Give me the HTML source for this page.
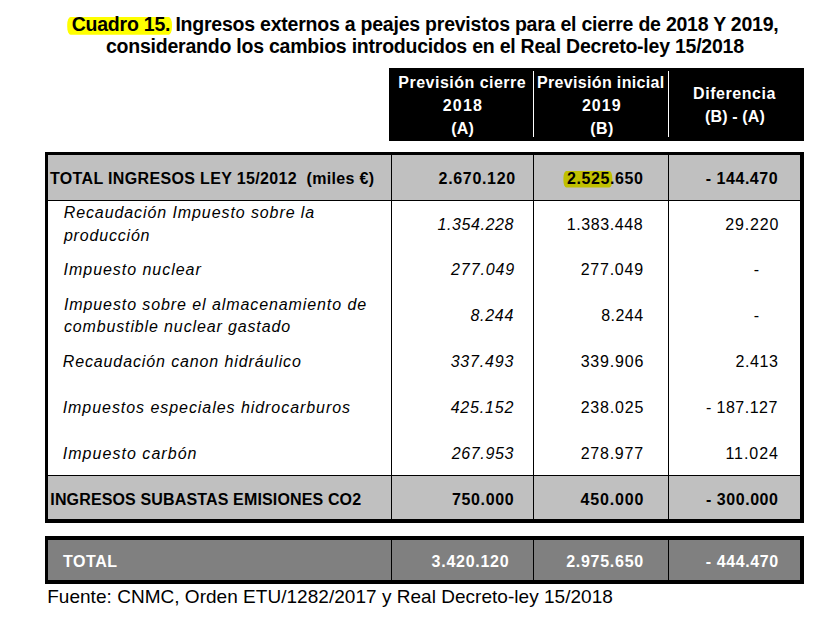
<!DOCTYPE html>
<html><head><meta charset="utf-8"><style>
html,body{margin:0;padding:0;background:#fff;}
body{width:834px;height:620px;overflow:hidden;}
svg{display:block;white-space:pre;font-family:"Liberation Sans",sans-serif;}
</style></head><body>
<svg width="834" height="620" viewBox="0 0 834 620">
<rect x="0" y="0" width="834" height="620" fill="#fff"/>
<rect x="67.2" y="17" width="104.8" height="17.8" rx="3.5" ry="8" fill="#ffff00"/>
<g shape-rendering="crispEdges">
<rect x="389" y="68" width="415" height="73" fill="#000"/>
<rect x="533" y="71" width="1" height="66" fill="#fff"/>
<rect x="668" y="71" width="1" height="66" fill="#fff"/>
<rect x="45" y="152" width="759" height="371" fill="#000"/>
<rect x="48" y="155" width="752" height="364" fill="#fff"/>
<rect x="48" y="155" width="752" height="45" fill="#c0c0c0"/>
<rect x="48" y="476" width="752" height="43" fill="#c0c0c0"/>
<rect x="48" y="200" width="752" height="1" fill="#000"/>
<rect x="48" y="475" width="752" height="1" fill="#000"/>
<rect x="391" y="155" width="1" height="364" fill="#000"/>
<rect x="533" y="155" width="1" height="364" fill="#000"/>
<rect x="668" y="155" width="1" height="364" fill="#000"/>
<rect x="45" y="536" width="759" height="48" fill="#000"/>
<rect x="48" y="540" width="752" height="40" fill="#808080"/>
<rect x="391" y="540" width="1" height="40" fill="#000"/>
<rect x="533" y="540" width="1" height="40" fill="#000"/>
<rect x="668" y="540" width="1" height="40" fill="#000"/>
</g>
<rect x="563.4" y="170.9" width="48.9" height="16.6" rx="3" ry="7" fill="#c0c000"/>
<text x="71.70" y="31.00" font-size="19.5" font-weight="bold" letter-spacing="-0.226">Cuadro 15. Ingresos externos a peajes previstos para el cierre de 2018 Y 2019,</text>
<text x="106.00" y="52.70" font-size="19.5" font-weight="bold" letter-spacing="-0.230">considerando los cambios introducidos en el Real Decreto-ley 15/2018</text>
<text x="398.30" y="88.10" font-size="16" font-weight="bold" fill="#fff" letter-spacing="0.489">Previsión cierre</text>
<text x="442.80" y="110.70" font-size="16" font-weight="bold" fill="#fff" letter-spacing="1.168">2018</text>
<text x="451.20" y="134.20" font-size="16" font-weight="bold" fill="#fff" letter-spacing="0.159">(A)</text>
<text x="537.00" y="88.10" font-size="16" font-weight="bold" fill="#fff" letter-spacing="0.339">Previsión inicial</text>
<text x="581.90" y="110.60" font-size="16" font-weight="bold" fill="#fff" letter-spacing="1.068">2019</text>
<text x="590.20" y="134.20" font-size="16" font-weight="bold" fill="#fff" letter-spacing="0.459">(B)</text>
<text x="693.10" y="98.80" font-size="16" font-weight="bold" fill="#fff" letter-spacing="0.548">Diferencia</text>
<text x="705.00" y="122.00" font-size="16" font-weight="bold" fill="#fff" letter-spacing="0.148">(B) - (A)</text>
<text x="50.00" y="183.70" font-size="16" font-weight="bold" letter-spacing="0.342">TOTAL INGRESOS LEY 15/2012  (miles €)</text>
<text x="438.60" y="183.80" font-size="16" font-weight="bold" letter-spacing="0.665">2.670.120</text>
<text x="567.00" y="183.80" font-size="16" font-weight="bold" letter-spacing="0.590">2.525.650</text>
<text x="705.80" y="183.80" font-size="16" font-weight="bold" letter-spacing="0.524">- 144.470</text>
<text x="63.70" y="218.00" font-size="16" font-style="italic" letter-spacing="0.910">Recaudación Impuesto sobre la</text>
<text x="63.90" y="241.00" font-size="16" font-style="italic" letter-spacing="0.814">producción</text>
<text x="437.50" y="230.00" font-size="16" font-style="italic" letter-spacing="0.602">1.354.228</text>
<text x="566.80" y="229.60" font-size="16" letter-spacing="0.577">1.383.448</text>
<text x="725.20" y="229.90" font-size="16" letter-spacing="0.832">29.220</text>
<text x="63.60" y="274.60" font-size="16" font-style="italic" letter-spacing="0.960">Impuesto nuclear</text>
<text x="451.10" y="275.00" font-size="16" font-style="italic" letter-spacing="0.877">277.049</text>
<text x="580.65" y="274.80" font-size="16" letter-spacing="0.769">277.049</text>
<text x="753.80" y="275.00" font-size="16">-</text>
<text x="63.90" y="310.10" font-size="16" font-style="italic" letter-spacing="0.910">Impuesto sobre el almacenamiento de</text>
<text x="63.90" y="332.20" font-size="16" font-style="italic" letter-spacing="0.866">combustible nuclear gastado</text>
<text x="470.50" y="321.00" font-size="16" font-style="italic" letter-spacing="0.690">8.244</text>
<text x="601.20" y="321.00" font-size="16" letter-spacing="0.465">8.244</text>
<text x="753.80" y="320.60" font-size="16">-</text>
<text x="62.70" y="367.30" font-size="16" font-style="italic" letter-spacing="0.883">Recaudación canon hidráulico</text>
<text x="450.65" y="367.00" font-size="16" font-style="italic" letter-spacing="0.835">337.493</text>
<text x="580.65" y="367.00" font-size="16" letter-spacing="0.835">339.906</text>
<text x="735.50" y="367.00" font-size="16" letter-spacing="0.590">2.413</text>
<text x="62.70" y="413.30" font-size="16" font-style="italic" letter-spacing="0.947">Impuestos especiales hidrocarburos</text>
<text x="450.65" y="413.00" font-size="16" font-style="italic" letter-spacing="0.835">425.152</text>
<text x="580.65" y="413.00" font-size="16" letter-spacing="0.835">238.025</text>
<text x="705.90" y="412.90" font-size="16" letter-spacing="0.474">- 187.127</text>
<text x="62.70" y="459.40" font-size="16" font-style="italic" letter-spacing="1.044">Impuesto carbón</text>
<text x="451.65" y="458.50" font-size="16" font-style="italic" letter-spacing="0.669">267.953</text>
<text x="580.65" y="458.50" font-size="16" letter-spacing="0.769">278.977</text>
<text x="725.40" y="458.80" font-size="16" letter-spacing="0.950">11.024</text>
<text x="50.30" y="504.60" font-size="16" font-weight="bold" letter-spacing="0.146">INGRESOS SUBASTAS EMISIONES CO2</text>
<text x="452.00" y="504.50" font-size="16" font-weight="bold" letter-spacing="0.627">750.000</text>
<text x="580.60" y="504.50" font-size="16" font-weight="bold" letter-spacing="0.810">450.000</text>
<text x="706.00" y="504.50" font-size="16" font-weight="bold" letter-spacing="0.536">- 300.000</text>
<text x="63.00" y="566.60" font-size="16" font-weight="bold" fill="#fff" letter-spacing="0.557">TOTAL</text>
<text x="431.60" y="566.90" font-size="16" font-weight="bold" fill="#fff" letter-spacing="0.727">3.420.120</text>
<text x="566.20" y="566.90" font-size="16" font-weight="bold" fill="#fff" letter-spacing="0.727">2.975.650</text>
<text x="705.80" y="566.90" font-size="16" font-weight="bold" fill="#fff" letter-spacing="0.599">- 444.470</text>
<text x="47.20" y="602.80" font-size="19" letter-spacing="0.029">Fuente: CNMC, Orden ETU/1282/2017 y Real Decreto-ley 15/2018</text>
</svg>
</body></html>
